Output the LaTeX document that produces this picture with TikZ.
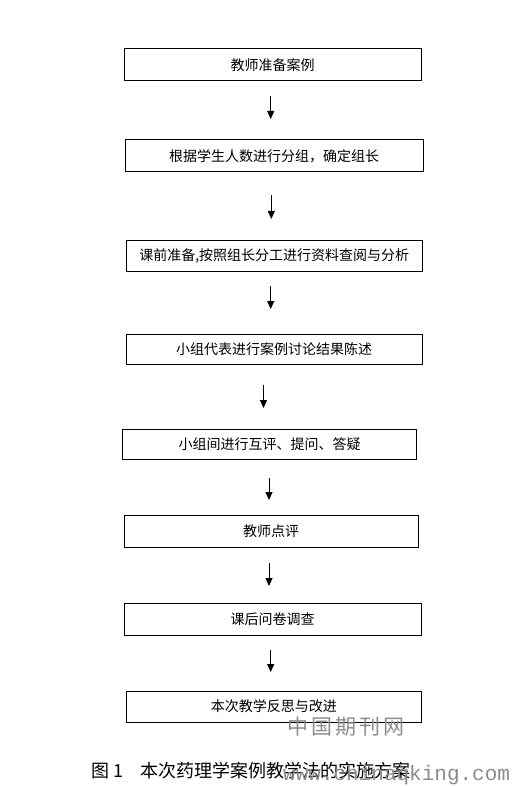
\documentclass[tikz,border=0pt]{standalone}
\usepackage{fontspec}
\setmainfont{Noto Sans CJK SC}
\newfontfamily\wmmono{Liberation Mono}
\usetikzlibrary{arrows.meta}
\tikzset{
  box/.style={draw=black, line width=1pt, inner sep=0pt, font=\fontsize{14}{16}\selectfont},
  flowarrow/.style={line width=1pt, -{Triangle[width=7pt,length=8pt]}},
  wmark/.style={text=black!45, inner sep=0pt}
}
\begin{document}
\begin{tikzpicture}[x=1pt,y=-1pt]
\useasboundingbox (0,0) rectangle (513,786);
\fill[white] (0,0) rectangle (513,786);
\node[box, minimum width=297pt, minimum height=32pt] (b1) at (272.5,65) {教师准备案例};
\node[box, minimum width=298pt, minimum height=32pt] (b2) at (274,156) {根据学生人数进行分组，确定组长};
\node[box, minimum width=296pt, minimum height=31pt] (b3) at (274.2,255.5) {课前准备,按照组长分工进行资料查阅与分析};
\node[box, minimum width=296pt, minimum height=30pt] (b4) at (274,349) {小组代表进行案例讨论结果陈述};
\node[box, minimum width=294pt, minimum height=30pt] (b5) at (269.6,444) {小组间进行互评、提问、答疑};
\node[box, minimum width=294pt, minimum height=32pt] (b6) at (271,531) {教师点评};
\node[box, minimum width=297pt, minimum height=32pt] (b7) at (272.5,619) {课后问卷调查};
\node[box, minimum width=295pt, minimum height=31pt] (b8) at (273.8,706.5) {本次教学反思与改进};
\coordinate (a1s) at (270.7,96);  \coordinate (a1e) at (270.7,119);
\coordinate (a2s) at (271.3,195); \coordinate (a2e) at (271.3,219);
\coordinate (a3s) at (270.7,286); \coordinate (a3e) at (270.7,309);
\coordinate (a4s) at (263.5,385); \coordinate (a4e) at (263.5,408);
\coordinate (a5s) at (269,478);   \coordinate (a5e) at (269,500);
\coordinate (a6s) at (269,563);   \coordinate (a6e) at (269,586);
\coordinate (a7s) at (270.7,650); \coordinate (a7e) at (270.7,672);
\foreach \i in {1,...,7} {\draw[flowarrow] (a\i s) -- (a\i e);}
\node[anchor=west, inner sep=0pt, font=\fontsize{18}{20}\selectfont] (cap) at (91,771) {图 1\hspace{17pt}本次药理学案例教学法的实施方案};
\node[wmark, anchor=west, font=\fontsize{21}{23}\selectfont] (wm1) at (287,727) {中\hspace{3pt}国\hspace{3pt}期\hspace{3pt}刊\hspace{3pt}网};
\node[wmark, anchor=west, font=\wmmono\fontsize{21}{23}\selectfont] (wm2) at (283,775) {www.chinaqking.com};
\end{tikzpicture}
\end{document}
